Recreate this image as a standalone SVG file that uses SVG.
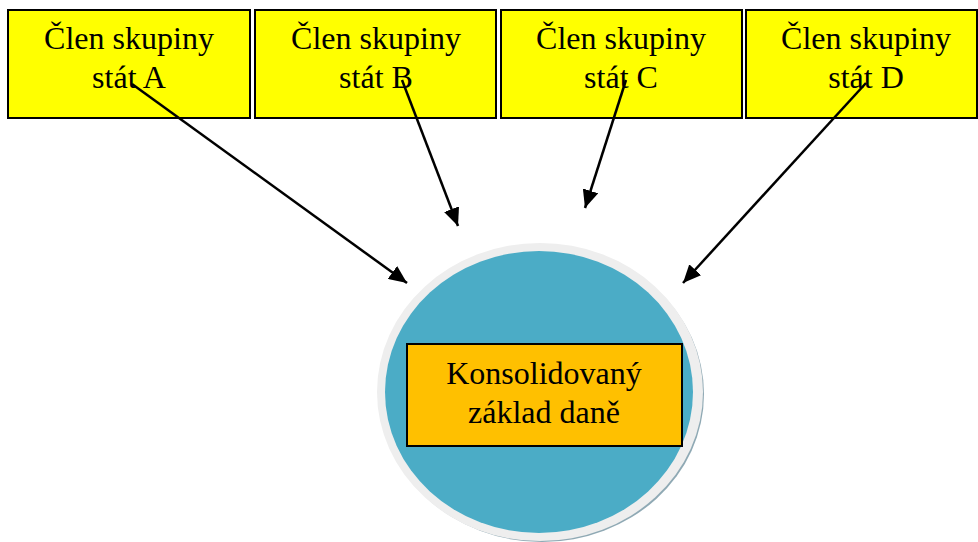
<svg xmlns="http://www.w3.org/2000/svg" width="978" height="542" viewBox="0 0 978 542">
<defs>
<style>
.box{fill:#ffff00;stroke:#000;stroke-width:2}
.t{font-family:"Liberation Serif","Times New Roman",serif;font-size:32px;fill:#000;text-anchor:middle}
.c{stroke:#000;stroke-width:2.5;fill:none;marker-end:url(#ah)}
</style>
<marker id="ah" markerUnits="userSpaceOnUse" markerWidth="20" markerHeight="16" refX="18" refY="8" orient="auto">
<path d="M0,0 L18,8 L0,16 Z" fill="#000"/>
</marker>
</defs>
<rect width="978" height="542" fill="#fff"/>
<g id="nodeA"><rect class="box" x="8" y="10" width="242" height="108"/><text class="t" x="129" y="49">Člen skupiny</text><text class="t" x="129" y="88">stát A</text></g>
<g id="nodeB"><rect class="box" x="255" y="10" width="241" height="108"/><text class="t" x="376" y="49">Člen skupiny</text><text class="t" x="376" y="88">stát B</text></g>
<g id="nodeC"><rect class="box" x="501" y="10" width="241" height="108"/><text class="t" x="621" y="49">Člen skupiny</text><text class="t" x="621" y="88">stát C</text></g>
<g id="nodeD"><rect class="box" x="746" y="10" width="231" height="108"/><text class="t" x="866" y="49">Člen skupiny</text><text class="t" x="866" y="88">stát D</text></g>
<g id="center">
<ellipse cx="542" cy="394" rx="162" ry="148" fill="#8fa9b4"/>
<ellipse cx="540" cy="392" rx="163" ry="149" fill="#eeeeee"/>
<ellipse cx="539" cy="392" rx="154" ry="141" fill="#4bacc6"/>
<rect x="407" y="344" width="275" height="102" fill="#ffc000" stroke="#000" stroke-width="2"/>
<text class="t" x="544" y="384">Konsolidovaný</text>
<text class="t" x="544" y="423">základ daně</text>
</g>
<g id="connectors">
<line class="c" x1="132" y1="84" x2="407" y2="283"/>
<line class="c" x1="402" y1="80" x2="458" y2="226"/>
<line class="c" x1="626" y1="80" x2="585" y2="208"/>
<line class="c" x1="866" y1="83" x2="683" y2="283"/>
</g>
</svg>
